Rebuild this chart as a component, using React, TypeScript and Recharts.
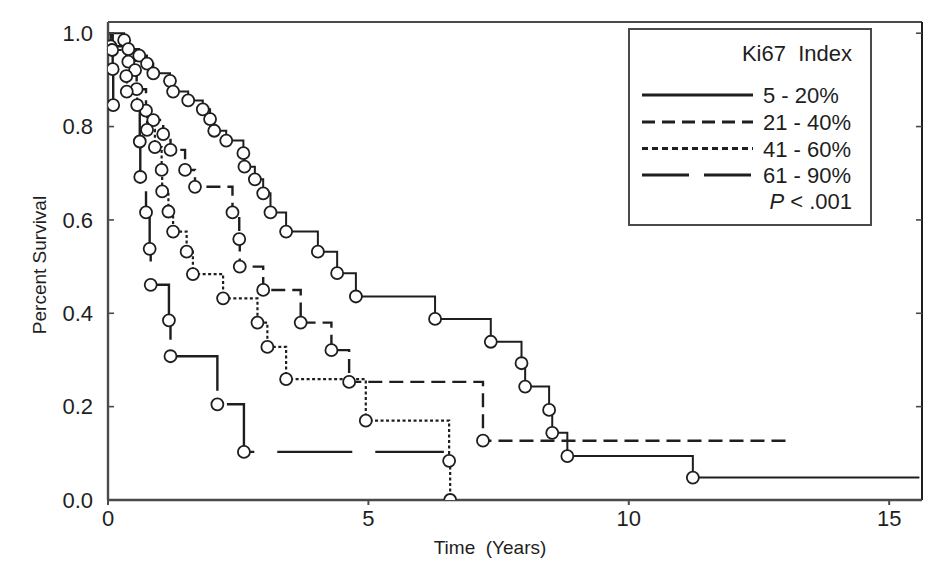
import React from "react";
import { ComposedChart, Line, XAxis, YAxis, ReferenceLine } from "recharts";

const FONT = "'Liberation Sans', Arial, Helvetica, sans-serif";
const INK = "#1e1e1e";
const FRAME = "#4a4a4a";

const X_TICKS = [0, 5, 10, 15];
const Y_TICKS = [0, 0.2, 0.4, 0.6, 0.8, 1.0];
const X_MAX = 15.63;
const Y_MAX = 1.024;

// Ki67 5-20% (solid)
const lowT = [0.31, 0.39, 0.6, 0.75, 0.87, 1.19, 1.25, 1.54, 1.82, 1.96, 2.04, 2.27, 2.6, 2.62, 2.82, 2.98, 3.12, 3.42, 4.03, 4.4, 4.76, 6.28, 7.35, 7.94, 8.01, 8.47, 8.53, 8.82, 11.23];
const lowS = [0.985, 0.966, 0.952, 0.935, 0.914, 0.898, 0.875, 0.856, 0.837, 0.816, 0.791, 0.77, 0.743, 0.714, 0.687, 0.657, 0.616, 0.575, 0.532, 0.486, 0.436, 0.388, 0.339, 0.293, 0.243, 0.193, 0.144, 0.094, 0.048];
const lowEnd = 15.58;

// Ki67 21-40% (dashed)
const midT = [0.05, 0.39, 0.52, 0.55, 0.73, 0.87, 1.06, 1.2, 1.48, 1.67, 2.39, 2.52, 2.53, 2.98, 3.7, 4.29, 4.63, 7.2];
const midS = [0.972, 0.939, 0.921, 0.88, 0.834, 0.814, 0.784, 0.75, 0.707, 0.671, 0.616, 0.559, 0.5, 0.45, 0.38, 0.321, 0.253, 0.127];
const midEnd = 13.1;

// Ki67 41-60% (dotted)
const highT = [0.08, 0.35, 0.36, 0.56, 0.75, 0.9, 1.03, 1.04, 1.16, 1.25, 1.51, 1.63, 2.21, 2.87, 3.06, 3.42, 4.95, 6.55, 6.57];
const highS = [0.964, 0.908, 0.875, 0.846, 0.793, 0.756, 0.707, 0.661, 0.618, 0.575, 0.532, 0.484, 0.432, 0.38, 0.328, 0.259, 0.17, 0.084, 0.0];

// Ki67 61-90% (long dash)
const topT = [0.09, 0.1, 0.61, 0.62, 0.73, 0.8, 0.82, 1.17, 1.2, 2.1, 2.61];
const topS = [0.923, 0.846, 0.768, 0.692, 0.616, 0.538, 0.461, 0.385, 0.308, 0.205, 0.103];
const topEnd = 6.45;

type Pt = { t: number; s: number; ev: boolean };

function km(ts: number[], ss: number[], end?: number): Pt[] {
  const pts: Pt[] = [{ t: 0, s: 1, ev: false }];
  ts.forEach((t, i) => pts.push({ t, s: ss[i], ev: true }));
  if (end !== undefined) pts.push({ t: end, s: ss[ss.length - 1], ev: false });
  return pts;
}

const groups = [
  { key: "low", label: "5 - 20%", data: km(lowT, lowS, lowEnd), dash: undefined, width: 2, legendDash: undefined },
  { key: "mid", label: "21 - 40%", data: km(midT, midS, midEnd), dash: "14 7", width: 2.4, legendDash: "13 7" },
  { key: "high", label: "41 - 60%", data: km(highT, highS), dash: "3 2.5", width: 2.2, legendDash: "6 4" },
  { key: "top", label: "61 - 90%", data: km(topT, topS, topEnd), dash: "75 23", width: 2.4, legendDash: "47 15" },
];

const renderDot = (props: any) => {
  const { cx, cy, payload, index } = props;
  if (!payload || !payload.ev) return <g key={`n${index}`} />;
  return <circle key={`c${index}`} cx={cx} cy={cy} r={6} fill="#fff" stroke={INK} strokeWidth={1.8} />;
};

const XTick = (p: any) => (
  <text x={p.x} y={p.y + 21} textAnchor="middle" fontSize={22} fontFamily={FONT} fill={INK}>
    {p.payload.value}
  </text>
);

const YTickLeft = (p: any) => (
  <g>
    <line x1={p.x} x2={p.x + 6} y1={p.y} y2={p.y} stroke={FRAME} strokeWidth={1.6} />
    <text x={p.x - 15} y={p.y + 7.8} textAnchor="end" fontSize={22} fontFamily={FONT} fill={INK}>
      {Number(p.payload.value).toFixed(1)}
    </text>
  </g>
);

const YTickRight = (p: any) => (
  <line x1={p.x - 6} x2={p.x} y1={p.y} y2={p.y} stroke={FRAME} strokeWidth={1.6} />
);

function LegendBox() {
  const rows = [67, 94, 120.5, 147];
  return (
    <svg width={246} height={200} style={{ position: "absolute", left: 619, top: 19 }}>
      <g transform="translate(1,1)">
        <rect x={1} y={1} width={242} height={196} fill="#fff" stroke={FRAME} strokeWidth={2} />
        <text x={224} y={33} textAnchor="end" fontSize={22} fontFamily={FONT} fill={INK} style={{ whiteSpace: "pre" }}>
          {"Ki67  Index"}
        </text>
        {groups.map((g, i) => (
          <g key={g.key}>
            <line x1={14} x2={125} y1={rows[i]} y2={rows[i]} stroke={INK} strokeWidth={3.2} strokeDasharray={g.legendDash} />
            <text x={135} y={rows[i] + 8} fontSize={22} fontFamily={FONT} fill={INK} style={{ whiteSpace: "pre" }}>
              {g.label}
            </text>
          </g>
        ))}
        <text x={224} y={181} textAnchor="end" fontSize={22} fontFamily={FONT} fill={INK} style={{ whiteSpace: "pre" }}>
          <tspan fontStyle="italic">P</tspan>
          {" < .001"}
        </text>
      </g>
    </svg>
  );
}

export default function App() {
  return (
    <div style={{ position: "relative", width: 924, height: 555, fontFamily: FONT, color: INK, background: "#fff" }}>
      <ComposedChart width={924} height={555} margin={{ top: 14, right: 9, bottom: 0, left: 0 }}>
        <XAxis
          type="number"
          dataKey="t"
          domain={[0, X_MAX]}
          ticks={X_TICKS}
          allowDataOverflow
          height={63}
          tickSize={5}
          tickMargin={0}
          tickLine={{ stroke: FRAME, strokeWidth: 2 }}
          axisLine={{ stroke: FRAME, strokeWidth: 2.4 }}
          tick={(p: any) => <XTick {...p} />}
        />
        <YAxis
          type="number"
          domain={[0, Y_MAX]}
          ticks={Y_TICKS}
          allowDataOverflow
          width={100}
          tickSize={0}
          tickMargin={0}
          tickLine={false}
          axisLine={{ stroke: FRAME, strokeWidth: 2.4 }}
          tick={(p: any) => <YTickLeft {...p} />}
        />
        <YAxis
          yAxisId="r"
          orientation="right"
          type="number"
          domain={[0, Y_MAX]}
          ticks={Y_TICKS}
          allowDataOverflow
          width={1}
          tickSize={0}
          tickMargin={0}
          tickLine={false}
          axisLine={{ stroke: INK, strokeWidth: 2 }}
          tick={(p: any) => <YTickRight {...p} />}
        />
        <ReferenceLine y={Y_MAX} stroke={FRAME} strokeWidth={2} />
        {groups.map((g) => (
          <Line
            key={g.key}
            data={g.data}
            dataKey="s"
            type="stepAfter"
            stroke={INK}
            strokeWidth={g.width}
            strokeDasharray={g.dash}
            dot={renderDot}
            activeDot={false}
            isAnimationActive={false}
          />
        ))}
      </ComposedChart>
      <div
        style={{
          position: "absolute",
          left: 32,
          top: 257,
          transform: "translate(-50%, -50%) rotate(-90deg)",
          fontSize: 19,
          whiteSpace: "nowrap",
        }}
      >
        Percent Survival
      </div>
      <div
        style={{
          position: "absolute",
          left: 482,
          top: 540,
          transform: "translate(-50%, -50%)",
          fontSize: 19,
          whiteSpace: "pre",
        }}
      >
        {"Time  (Years)"}
      </div>
      <LegendBox />
    </div>
  );
}
